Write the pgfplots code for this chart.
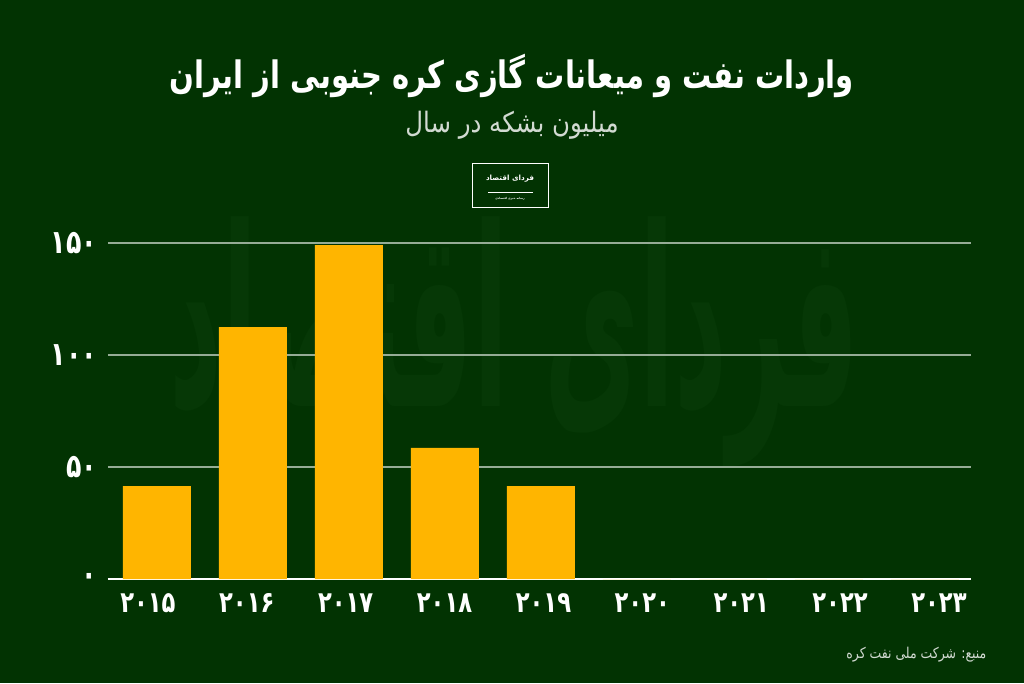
\documentclass[border=0pt]{standalone}
\usepackage{pgfplots}
\pgfplotsset{compat=1.18}
\usepackage{fontspec}
\setmainfont{DejaVu Sans}
\newfontfamily\fa[Script=Arabic]{DejaVu Sans}
\TeXXeTstate=1
\definecolor{bg}{RGB}{2,51,2}
\definecolor{barc}{RGB}{255,181,0}
\definecolor{gridc}{RGB}{150,172,150}
\definecolor{wm}{RGB}{6,56,6}
\definecolor{subc}{RGB}{210,218,210}
\begin{document}
\begin{tikzpicture}
\fill[bg] (0,0) rectangle (768pt,512.25pt);
% watermark
\node[text=wm, inner sep=0pt, anchor=north] at (386pt,350pt) {\resizebox*{517pt}{188pt}{\fa\bfseries\beginR فردای اقتصاد\endR}};
% title
\node[text=white, inner sep=0pt] at (384pt,455pt) {\scalebox{1}[1.3]{\resizebox{513pt}{!}{\fa\bfseries\beginR واردات نفت و میعانات گازی کره جنوبی از ایران\endR}}};
% subtitle
\node[text=subc, inner sep=0pt] at (384pt,418pt) {\scalebox{1}[1.15]{\resizebox{160pt}{!}{\fa\beginR میلیون بشکه در سال\endR}}};
% logo
\draw[white, line width=0.7pt] (354pt,357pt) rectangle (411pt,390pt);
\node[text=white, inner sep=0pt] at (382.5pt,378.5pt) {\resizebox{36pt}{!}{\fa\bfseries\beginR فردای اقتصاد\endR}};
\draw[white, line width=0.4pt] (366pt,368pt) -- (400pt,368pt);
\node[text=white, inner sep=0pt] at (382.5pt,363pt) {\resizebox{22pt}{!}{\fa\bfseries\beginR رسانه خبری اقتصادی\endR}};
% source
\node[text=subc, inner sep=0pt, anchor=east] at (740pt,21pt) {\scalebox{1}[1.2]{\resizebox{105pt}{!}{\fa\beginR منبع: شرکت ملی نفت کره\endR}}};
\begin{axis}[
  at={(81pt,78pt)}, anchor=south west,
  width=647.25pt, height=252pt, scale only axis,
  xmin=-0.51, xmax=8.48, ymin=0, ymax=150,
  ybar, bar width=51pt,
  axis x line=bottom, axis y line=left,
  x axis line style={white, line width=1.4pt, -},
  y axis line style={draw=none},
  major tick length=0pt,
  ymajorgrids, grid style={gridc, line width=0.8pt},
  xtick={-0.094,0.936,1.966,2.996,4.026,5.056,6.086,7.116,8.146},
  xticklabels={\scalebox{1}[1.3]{۲۰۱۵},\scalebox{1}[1.3]{۲۰۱۶},\scalebox{1}[1.3]{۲۰۱۷},\scalebox{1}[1.3]{۲۰۱۸},\scalebox{1}[1.3]{۲۰۱۹},\scalebox{1}[1.3]{۲۰۲۰},\scalebox{1}[1.3]{۲۰۲۱},\scalebox{1}[1.3]{۲۰۲۲},\scalebox{1}[1.3]{۲۰۲۳}},
  ytick={0,50,100,150},
  yticklabels={\scalebox{1}[1.3]{۰},\scalebox{1}[1.3]{۵۰},\scalebox{1}[1.3]{۱۰۰},\scalebox{1}[1.3]{۱۵۰}},
  xticklabel style={text=white, font=\fa\bfseries\fontsize{17}{17}\selectfont, inner sep=0pt, anchor=north, yshift=-11pt},
  yticklabel style={text=white, font=\fa\bfseries\fontsize{19}{19}\selectfont, inner sep=0pt, anchor=east, xshift=-8pt},
]
\addplot[fill=barc, draw=none] coordinates {(0,41.5) (1,112.5) (2,149.1) (3,58.5) (4,41.5) (5,0) (6,0) (7,0) (8,0)};
\end{axis}
\end{tikzpicture}
\end{document}
